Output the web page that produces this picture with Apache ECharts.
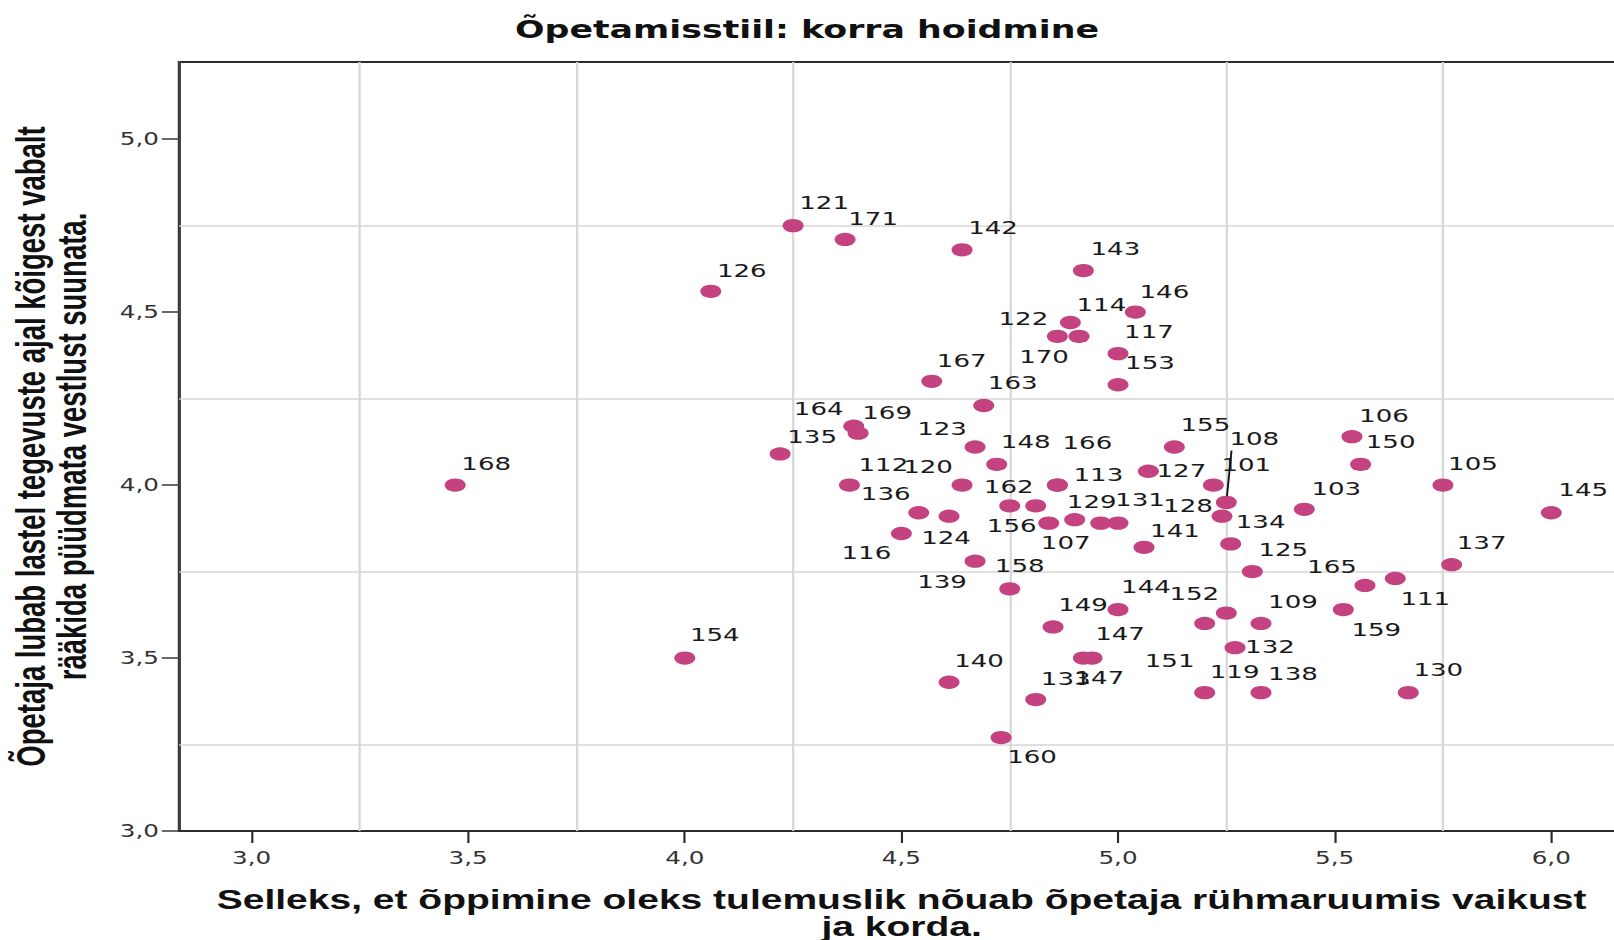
<!DOCTYPE html>
<html>
<head>
<meta charset="utf-8">
<title>Õpetamisstiil: korra hoidmine</title>
<script src="https://cdn.jsdelivr.net/npm/echarts@6/dist/echarts.min.js"></script>
<style>
html, body { margin: 0; padding: 0; background: #fff; overflow: hidden; }
/* the original picture is stretched sideways, so the chart is drawn narrower and widened */
#chart { width: 1113px; height: 940px; transform: scaleX(1.4501); transform-origin: 0 0; }
</style>
</head>
<body>
<div id="chart"></div>
<script>
// juhtumid (case labels) and their two scores
const caseIds = ['121', '171', '142', '143', '126', '146', '114', '122', '170', '117',
  '153', '167', '163', '164', '169', '135', '123', '148', '155', '106',
  '150', '168', '112', '120', '113', '166', '127', '101', '105', '103',
  '145', '108', '128', '134', '162', '156', '136', '124', '107', '129',
  '', '131', '116', '141', '139', '158', '125', '137', '165', '111',
  '159', '144', '149', '152', '151', '109', '132', '154', '147', '147',
  '133', '140', '119', '138', '130', '160'];
const xValues = [4.25, 4.37, 4.64, 4.92, 4.06, 5.04, 4.89, 4.86, 4.91, 5.00,
  5.00, 4.57, 4.69, 4.39, 4.40, 4.22, 4.67, 4.72, 5.13, 5.54,
  5.56, 3.47, 4.38, 4.64, 4.86, 4.86, 5.07, 5.22, 5.75, 5.43,
  6.00, 5.25, 5.24, 5.26, 4.75, 4.81, 4.54, 4.61, 4.84, 4.90,
  4.96, 5.00, 4.50, 5.06, 4.67, 4.75, 5.31, 5.77, 5.57, 5.64,
  5.52, 5.00, 4.85, 5.25, 5.20, 5.33, 5.27, 4.00, 4.92, 4.94,
  4.81, 4.61, 5.20, 5.33, 5.67, 4.73];
const yValues = [4.75, 4.71, 4.68, 4.62, 4.56, 4.50, 4.47, 4.43, 4.43, 4.38,
  4.29, 4.30, 4.23, 4.17, 4.15, 4.09, 4.11, 4.06, 4.11, 4.14,
  4.06, 4.00, 4.00, 4.00, 4.00, 4.00, 4.04, 4.00, 4.00, 3.93,
  3.92, 3.95, 3.91, 3.83, 3.94, 3.94, 3.92, 3.91, 3.89, 3.90,
  3.89, 3.89, 3.86, 3.82, 3.78, 3.70, 3.75, 3.77, 3.71, 3.73,
  3.64, 3.64, 3.59, 3.63, 3.60, 3.60, 3.53, 3.50, 3.50, 3.50,
  3.38, 3.43, 3.40, 3.40, 3.40, 3.27];

const xTicks = [3.0, 3.5, 4.0, 4.5, 5.0, 5.5, 6.0];
const yTicks = [3.0, 3.5, 4.0, 4.5, 5.0];
const gridX = [3.25, 3.75, 4.25, 4.75, 5.25, 5.75];
const gridY = [3.25, 3.75, 4.25, 4.75];

// where each case label sits from its point, in screen pixels
const labelShift = [[31, -23], [28, -21], [31, -22], [32, -22], [31, -21], [29, -21], [31, -18], [-34, -18], [-35, 20], [31, -22],
  [32, -22], [30, -21], [29, -23], [-35, -18], [29, -21], [32, -17], [-33, -18], [29, -23], [31, -22], [32, -21],
  [30, -23], [31, -21], [34, -20], [-34, -18], [41, -10], [30, -42], [33, -1], [33, -20], [30, -21], [32, -21],
  [32, -23], [28, -64], [-34, -11], [30, -22], [-1, -19], [-24, 20], [-33, -19], [-3, 21], [17, 19], [17, -18],
  [0, 0], [22, -24], [-35, 19], [31, -17], [-33, 20], [10, -23], [31, -22], [30, -22], [-33, -19], [30, 20],
  [33, 20], [28, -23], [30, -22], [-32, -19], [-35, 37], [32, -22], [35, -1], [30, -23], [16, 20], [28, -24],
  [30, -21], [30, -22], [30, -21], [32, -19], [30, -23], [31, 19]];

// leader line from case 108 up to its label
const leader108 = [[5.25, 3.95], [5.262, 4.10]];

const stretch = 1614 / 1113;
const fmt = v => v.toFixed(1).replace('.', ',');

const points = caseIds.map((id, i) => ({
  name: id,
  value: [xValues[i], yValues[i]],
  label: { offset: [labelShift[i][0] / stretch, labelShift[i][1]] }
}));

const gridLines = gridX.map(v => ({ xAxis: v })).concat(gridY.map(v => ({ yAxis: v })));
gridLines.push([
  { coord: leader108[0], lineStyle: { color: '#111', width: 1.3 } },
  { coord: leader108[1] }
]);

const chart = echarts.init(document.getElementById('chart'), null, { renderer: 'svg' });

const option = {
  animation: false,
  backgroundColor: '#fff',
  title: {
    text: 'Õpetamisstiil: korra hoidmine',
    left: 'center',
    top: 18,
    padding: 0,
    textStyle: { fontFamily: 'DejaVu Sans', fontWeight: 'bold', fontSize: 24, color: '#111' }
  },
  grid: {
    left: 123.6, right: -16.5, top: 62, bottom: 109,
    show: true, borderColor: '#2b2b2b', borderWidth: 2,
    outerBoundsMode: 'none'
  },
  xAxis: {
    type: 'value',
    min: 2.833,
    max: 6.2,
    name: 'Selleks, et õppimine oleks tulemuslik nõuab õpetaja rühmaruumis vaikust\nja korda.',
    nameLocation: 'middle',
    nameGap: 55,
    nameTextStyle: {
      fontFamily: 'Liberation Sans', fontWeight: 'bold', fontSize: 26.9,
      lineHeight: 27, color: '#111', align: 'center', padding: [0, 9.6, 0, 0]
    },
    splitLine: { show: false },
    axisLine: { show: true, onZero: false, lineStyle: { color: '#2b2b2b', width: 2 } },
    axisTick: { show: true, customValues: xTicks, length: 12, lineStyle: { color: '#2b2b2b', width: 1.5 } },
    axisLabel: { customValues: xTicks, formatter: fmt, margin: 18, fontFamily: 'DejaVu Sans', fontSize: 17, color: '#333' }
  },
  yAxis: {
    type: 'value',
    min: 3,
    max: 5.223,
    name: 'Õpetaja lubab lastel tegevuste ajal kõigest vabalt\nrääkida püüdmata vestlust suunata.',
    nameLocation: 'middle',
    nameGap: 60,
    nameTextStyle: {
      fontFamily: 'Liberation Sans', fontWeight: 'bold', fontSize: 27.5,
      lineHeight: 28, color: '#111', align: 'center'
    },
    splitLine: { show: false },
    axisLine: { show: true, onZero: false, lineStyle: { color: '#444', width: 1.6 } },
    axisTick: { show: true, customValues: yTicks, length: 12, lineStyle: { color: '#444', width: 1.6 } },
    axisLabel: { customValues: yTicks, formatter: fmt, margin: 14, fontFamily: 'DejaVu Sans', fontSize: 17, color: '#333' }
  },
  series: [
    {
      type: 'scatter',
      z: 2,
      symbol: 'circle',
      symbolSize: [14.5, 13.3],
      itemStyle: { color: '#c4427f', opacity: 1 },
      label: {
        show: true,
        position: 'inside',
        formatter: '{b}',
        fontFamily: 'DejaVu Sans',
        fontSize: 18,
        color: '#1a1a1a'
      },
      emphasis: { disabled: true },
      data: points,
      markLine: {
        silent: true,
        z: 1,
        symbol: ['none', 'none'],
        label: { show: false },
        lineStyle: { color: '#d6d6d6', width: 1.5, type: 'solid' },
        emphasis: { disabled: true },
        data: gridLines
      }
    }
  ]
};

chart.setOption(option);
</script>
</body>
</html>
